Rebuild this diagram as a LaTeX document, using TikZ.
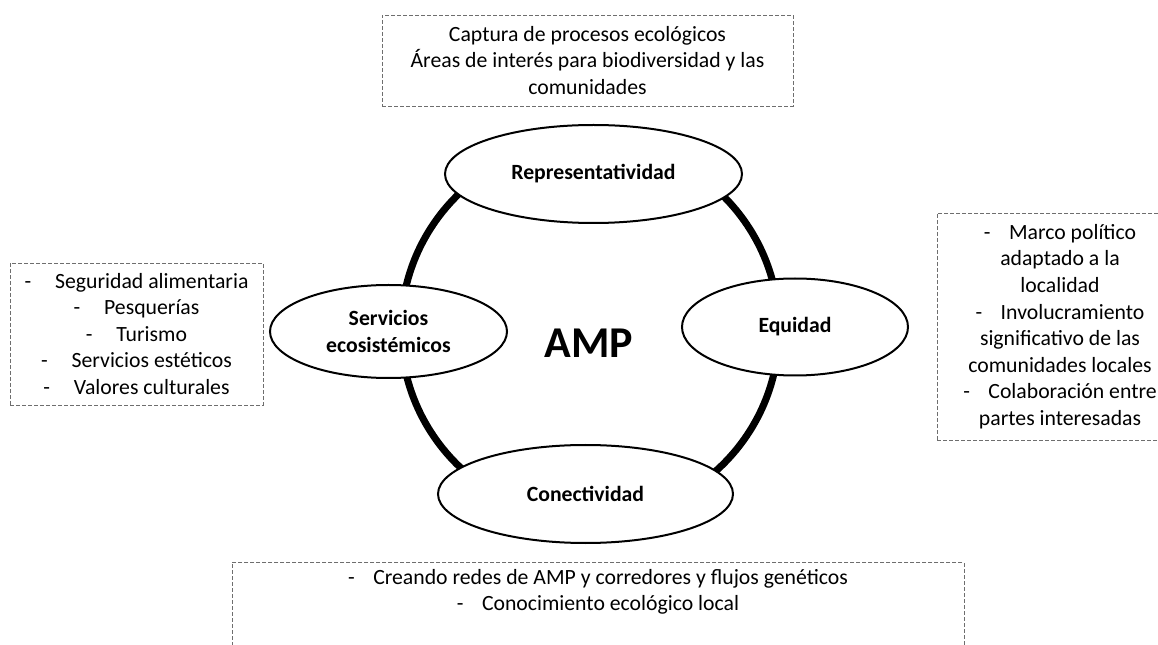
\documentclass[tikz,border=0pt]{standalone}
\usepackage{fontspec}
\setmainfont{Carlito}
\usetikzlibrary{shapes.geometric}
\definecolor{dashgray}{RGB}{110,110,110}

\newcommand{\guion}[1][0.85em]{-\hspace{#1}}

\begin{document}
\begin{tikzpicture}[
    x=0.75pt, y=-0.75pt,
    every node/.style={font=\fontsize{16.3}{19.9}\selectfont},
    notebox/.style={rectangle, draw=dashgray, line width=0.6pt, dash pattern=on 3pt off 1.5pt, align=center, inner sep=0pt},
    pillar/.style={ellipse, draw, line width=1.5pt, fill=white, inner sep=0pt, align=center, font=\fontsize{16.3}{19.9}\selectfont\bfseries},
    hubring/.style={circle, draw, line width=5.3pt, inner sep=0pt, minimum size=283.5pt},
]
\useasboundingbox (0,0) rectangle (1158,645);
\clip (0,0) rectangle (1158,645);

% Central ring
\node[hubring] (ciclo) at (590,330) {};
\node[font=\fontsize{33}{40}\selectfont\bfseries] (amp) at (589,343) {AMP};

% Pillars on the ring
\node[pillar, minimum width=222.75pt, minimum height=73.5pt] (repre) at (593.5,174) {Representatividad};
\node[pillar, minimum width=177.75pt, minimum height=69.75pt] (servi) at (388.5,331.5) {Servicios\\ecosistémicos};
\node[pillar, minimum width=169.5pt, minimum height=72.75pt] (equi) at (795,327) {Equidad};
\node[pillar, minimum width=221.25pt, minimum height=73.5pt] (conec) at (585.5,494) {Conectividad};

% Notes
\node[notebox, minimum width=308.25pt, minimum height=68.25pt] (notarepre) at (587.5,60.5) {
    Captura de procesos ecológicos\\
    Áreas de interés para biodiversidad y las\\
    comunidades
};

\node[notebox, minimum width=189.75pt, minimum height=106.5pt] (notaservi) at (136.5,334) {
    \guion[1.1em]Seguridad alimentaria\\
    \guion[1.1em]Pesquerías\\
    \guion[1.1em]Turismo\\
    \guion[1.1em]Servicios estéticos\\
    \guion[1.1em]Valores culturales
};

\node[notebox, minimum width=184.5pt, minimum height=170.25pt] (notaequi) at (1060,326.5) {
    \guion Marco político\\
    adaptado a la\\
    localidad\\
    \guion Involucramiento\\
    significativo de las\\
    comunidades locales\\
    \guion Colaboración entre\\
    partes interesadas
};

\node[notebox, anchor=north, minimum width=549pt, inner ysep=5pt, text depth=70pt] (notaconec) at (598,562) {
    \guion Creando redes de AMP y corredores y flujos genéticos\\
    \guion Conocimiento ecológico local
};

\end{tikzpicture}
\end{document}
